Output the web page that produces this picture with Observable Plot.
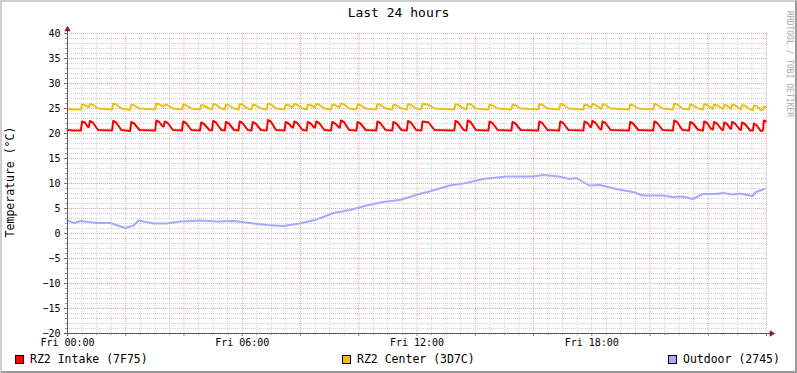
<!DOCTYPE html>
<html>
<head>
<meta charset="utf-8">
<script src="https://cdn.jsdelivr.net/npm/d3@7"></script>
<script src="https://cdn.jsdelivr.net/npm/@observablehq/plot@0.6"></script>
<style>
html, body { margin: 0; padding: 0; background: #fff; }
#wrap { position: relative; width: 797px; height: 373px; overflow: hidden; background: #fff;
        font-family: "DejaVu Sans Mono", monospace; color: #000; }
#wrap svg { position: absolute; left: 0; top: 0; }
#title { position: absolute; left: 0; top: 5px; width: 797px; text-align: center; font-size: 13px; line-height: 15px; }
#ylab { position: absolute; left: 10px; top: 182px; transform: translate(-50%, -50%) rotate(-90deg);
        font-size: 11.5px; white-space: nowrap; }
#wm { position: absolute; left: 789px; top: 64px; transform: translate(-50%, -50%) rotate(90deg);
      font-size: 8px; color: #a8a8a8; white-space: nowrap; }
.leg { position: absolute; top: 352px; font-size: 11.5px; line-height: 14px; white-space: nowrap; }
.leg .sw { position: absolute; left: 0; top: 3px; width: 7px; height: 7px; border: 1px solid #000; }
.leg .tx { position: absolute; left: 15px; top: 0; }
#border { position: absolute; left: 0; top: 0; width: 797px; height: 373px; box-sizing: border-box;
          border-top: 2px solid #cfcfcf; border-left: 2px solid #cfcfcf;
          border-right: 2px solid #9a9a9a; border-bottom: 2px solid #9a9a9a; pointer-events: none; }
</style>
</head>
<body>
<div id="wrap">
  <div id="title"></div>
  <div id="ylab"></div>
  <div id="wm"></div>
  <div id="border"></div>
</div>
<script>
// ---------- data ----------
const chartTitle = "Last 24 hours";
const yAxisTitle = "Temperature (°C)";
const watermark = "RRDTOOL / TOBI OETIKER";

const seriesNames = ["RZ2 Intake (7F75)", "RZ2 Center (3D7C)", "Outdoor (2745)"];
const seriesColors = ["#ff0000", "#eac11c", "#a8a8ff"];

const xTickHours = [0, 6, 12, 18];
const xTickLabels = ["Fri 00:00", "Fri 06:00", "Fri 12:00", "Fri 18:00"];
const yTickValues = [-20, -15, -10, -5, 0, 5, 10, 15, 20, 25, 30, 35, 40];

// hours since Fri 00:00 for the two indoor sensors (cooling cycles)
const cycleHours = [
  0, 0.2,
  0.46, 0.50, 0.60, 0.70,
  0.73, 0.77, 0.87, 1.05,
  1.53, 1.57, 1.67, 1.85,
  2.15, 2.19, 2.29, 2.47,
  3.01, 3.05, 3.15, 3.27,
  3.30, 3.34, 3.44, 3.62,
  3.93, 3.97, 4.07, 4.25,
  4.55, 4.59, 4.69, 4.87,
  4.96, 5.00, 5.10, 5.28,
  5.40, 5.44, 5.54, 5.72,
  5.87, 5.91, 6.01, 6.19,
  6.32, 6.36, 6.46, 6.64,
  6.84, 6.88, 6.98, 7.16,
  7.45, 7.49, 7.59, 7.72,
  7.75, 7.79, 7.89, 8.07,
  8.21, 8.25, 8.35, 8.47,
  8.50, 8.54, 8.64, 8.82,
  9.05, 9.09, 9.19, 9.32,
  9.35, 9.39, 9.49, 9.67,
  9.92, 9.96, 10.06, 10.24,
  10.60, 10.64, 10.74, 10.92,
  11.15, 11.19, 11.29, 11.47,
  11.65, 11.69, 11.79, 11.97,
  12.15, 12.19, 12.40, 12.60,
  13.28, 13.32, 13.42, 13.60,
  13.70, 13.74, 13.84, 14.02,
  14.45, 14.49, 14.59, 14.77,
  15.24, 15.28, 15.38, 15.56,
  16.16, 16.20, 16.30, 16.48,
  16.88, 16.92, 17.02, 17.20,
  17.71, 17.75, 17.85, 17.95,
  17.98, 18.02, 18.12, 18.28,
  18.33, 18.37, 18.47, 18.65,
  19.28, 19.32, 19.42, 19.60,
  20.11, 20.15, 20.25, 20.43,
  20.79, 20.83, 20.93, 21.11,
  21.34, 21.38, 21.48, 21.66,
  21.82, 21.86, 21.96, 22.10,
  22.16, 22.20, 22.30, 22.46,
  22.51, 22.55, 22.65, 22.75,
  22.78, 22.82, 22.92, 23.08,
  23.12, 23.16, 23.26, 23.44,
  23.53, 23.57, 23.67, 23.80,
  23.88, 23.91, 23.98
];

const intakeTemps = [
  20.7, 20.6,
  20.6, 22.4, 22.2, 21.3,
  21.3, 22.5, 22.2, 20.7,
  20.6, 22.5, 22.2, 20.7,
  20.5, 22.3, 22.0, 20.7,
  20.6, 22.6, 22.3, 21.4,
  21.4, 22.4, 22.1, 20.7,
  20.6, 22.4, 22.1, 20.7,
  20.6, 22.2, 21.9, 20.7,
  20.6, 22.5, 22.2, 20.7,
  20.6, 22.3, 22.0, 20.7,
  20.6, 22.4, 22.1, 20.7,
  20.6, 22.3, 22.0, 20.7,
  20.6, 22.7, 22.4, 20.7,
  20.6, 22.3, 22.0, 21.2,
  21.2, 22.4, 22.1, 20.7,
  20.6, 22.3, 22.0, 21.2,
  21.2, 22.4, 22.1, 20.7,
  20.6, 22.3, 22.0, 21.2,
  21.2, 22.6, 22.3, 20.7,
  20.6, 22.3, 22.0, 20.7,
  20.6, 22.4, 22.1, 20.7,
  20.6, 22.3, 22.0, 20.7,
  20.6, 22.5, 22.2, 20.7,
  20.6, 22.4, 22.2, 20.7,
  20.6, 22.5, 22.2, 20.7,
  20.6, 22.6, 22.3, 20.7,
  20.6, 22.4, 22.1, 20.7,
  20.6, 22.3, 22.0, 20.7,
  20.6, 22.4, 22.1, 20.7,
  20.6, 22.4, 22.1, 20.7,
  20.6, 22.4, 22.1, 21.3,
  21.3, 22.5, 22.2, 20.9,
  20.8, 22.4, 22.1, 20.7,
  20.6, 22.3, 22.0, 20.7,
  20.6, 22.4, 22.1, 20.7,
  20.6, 22.6, 22.3, 20.7,
  20.6, 22.3, 22.0, 20.7,
  20.6, 22.4, 22.1, 20.9,
  20.8, 22.3, 22.0, 20.8,
  20.7, 22.2, 21.9, 21.0,
  20.9, 22.3, 22.0, 20.8,
  20.7, 22.2, 21.9, 20.6,
  20.6, 22.0, 21.6, 20.5,
  20.6, 22.6, 22.4
];

const centerTemps = [
  24.9, 24.8,
  24.8, 25.8, 25.7, 25.3,
  25.3, 25.9, 25.75, 25.0,
  24.8, 26.0, 25.85, 25.0,
  24.7, 25.8, 25.65, 25.0,
  24.8, 26.0, 25.85, 25.4,
  25.4, 25.8, 25.65, 25.0,
  24.8, 25.8, 25.65, 25.0,
  24.8, 25.7, 25.55, 25.0,
  24.8, 25.9, 25.75, 25.0,
  24.8, 25.8, 25.65, 25.0,
  24.8, 25.9, 25.75, 25.0,
  24.8, 25.8, 25.65, 25.0,
  24.8, 26.0, 25.85, 25.0,
  24.8, 25.8, 25.65, 25.3,
  25.3, 25.9, 25.75, 25.0,
  24.8, 25.8, 25.65, 25.3,
  25.3, 25.9, 25.75, 25.0,
  24.8, 25.8, 25.65, 25.3,
  25.3, 26.0, 25.85, 25.0,
  24.8, 25.8, 25.65, 25.0,
  24.8, 25.9, 25.75, 25.0,
  24.8, 25.8, 25.65, 25.0,
  24.8, 25.9, 25.75, 25.0,
  24.8, 25.9, 25.75, 25.0,
  24.8, 25.9, 25.75, 25.0,
  24.8, 26.0, 25.85, 25.0,
  24.8, 25.8, 25.65, 25.0,
  24.8, 25.8, 25.65, 25.0,
  24.8, 25.9, 25.75, 25.0,
  24.8, 25.9, 25.75, 25.0,
  24.8, 25.8, 25.65, 25.3,
  25.3, 25.9, 25.75, 25.1,
  24.9, 25.9, 25.75, 25.0,
  24.8, 25.8, 25.65, 25.0,
  24.8, 25.9, 25.75, 25.0,
  24.8, 26.0, 25.85, 25.0,
  24.8, 25.8, 25.65, 25.0,
  24.8, 25.9, 25.75, 25.1,
  24.9, 25.8, 25.65, 25.1,
  24.9, 25.7, 25.55, 25.1,
  24.9, 25.8, 25.65, 25.0,
  24.8, 25.7, 25.55, 24.8,
  24.7, 25.6, 25.45, 24.7,
  24.7, 25.4, 25.3
];

const outdoorHours = [0, 0.23, 0.45, 1.01, 1.47, 1.98, 2.27, 2.44, 2.95, 3.41, 3.87, 4.55, 5.13, 5.70,
  6.27, 6.84, 7.41, 7.98, 8.55, 9.13, 9.70, 10.27, 10.84, 11.41, 12.09, 12.55, 13.12, 13.70, 14.27,
  15.07, 15.98, 16.33, 16.89, 17.24, 17.47, 17.92, 18.27, 18.84, 19.41, 19.75, 20.44, 20.78, 21.12,
  21.47, 21.81, 22.27, 22.50, 22.84, 23.07, 23.52, 23.64, 23.92];
const outdoorTemps = [2.6, 2.1, 2.5, 2.1, 2.1, 1.1, 1.6, 2.6, 2.0, 2.0, 2.4, 2.6, 2.4, 2.5,
  2.1, 1.7, 1.5, 2.0, 2.8, 4.1, 4.7, 5.6, 6.3, 6.7, 7.9, 8.6, 9.6, 10.1, 10.9,
  11.4, 11.4, 11.7, 11.4, 10.9, 11.1, 9.6, 9.7, 8.9, 8.3, 7.6, 7.6, 7.3, 7.4,
  6.9, 7.9, 7.9, 8.1, 7.8, 8.0, 7.5, 8.3, 8.9];

// ---------- build tables ----------
function table(hours, temps) {
  const n = Math.min(hours.length, temps.length);
  return d3.range(n).map(i => ({h: hours[i], t: temps[i]}));
}
const intake = table(cycleHours, intakeTemps);
const center = table(cycleHours, centerTemps);
const outdoor = table(outdoorHours, outdoorTemps);

const yMinor = d3.range(-20, 41, 1).filter(v => v % 5 !== 0);
const yMajor = yTickValues;
const xMinor = d3.range(0, 24.01, 0.5).filter(v => v % 2 !== 0);
const xMajor = d3.range(0, 24.01, 2);

const minorColor = "#d2d2d2";
const majorColor = "#eaa8a8";
const axisColor = "#5a5a5a";
const arrowColor = "#8a1c1c";

const chart = Plot.plot({
  width: 797,
  height: 373,
  marginLeft: 67,
  marginRight: 31,
  marginTop: 33,
  marginBottom: 40,
  style: {fontFamily: "DejaVu Sans Mono", fontSize: "10px", background: "transparent", color: "#000", overflow: "visible"},
  x: {domain: [0, 24]},
  y: {domain: [-20, 40]},
  marks: [
    Plot.ruleY(yMinor, {stroke: minorColor, strokeDasharray: "1,1"}),
    Plot.ruleX(xMinor, {stroke: minorColor, strokeDasharray: "1,1"}),
    Plot.ruleY(yMajor, {stroke: majorColor, strokeDasharray: "1,1"}),
    Plot.ruleX(xMajor, {stroke: majorColor, strokeDasharray: "1,1"}),
    Plot.axisY(yMinor, {tickSize: 2, tickFormat: () => "", stroke: "#999", label: null}),
    Plot.axisY(yMajor, {tickSize: 3, tickPadding: 4, stroke: "#b55", label: null, fontSize: 10}),
    Plot.axisX(xMinor, {tickSize: 2, tickFormat: () => "", stroke: "#999", label: null}),
    Plot.axisX(xMajor, {tickSize: 3, tickFormat: () => "", stroke: "#d66", label: null}),
    Plot.axisX(xTickHours, {tickSize: 0, tickPadding: 5,
      tickFormat: d => xTickLabels[xTickHours.indexOf(d)], label: null, fontSize: 10}),
    Plot.line(intake, {x: "h", y: "t", stroke: seriesColors[0], strokeWidth: 2}),
    Plot.line(center, {x: "h", y: "t", stroke: seriesColors[1], strokeWidth: 2}),
    Plot.line(outdoor, {x: "h", y: "t", stroke: seriesColors[2], strokeWidth: 2}),
    Plot.ruleY([-20], {stroke: axisColor, insetLeft: -3, insetRight: -6}),
    Plot.ruleX([0], {stroke: axisColor, insetTop: -6, insetBottom: -3}),
    Plot.dot([0], {x: 0, y: 40, symbol: "triangle2", r: 3, fill: arrowColor, stroke: null, dy: -4}),
    Plot.dot([0], {x: 24, y: -20, symbol: "triangle2", r: 3, fill: arrowColor, stroke: null, rotate: 90, dx: 5})
  ]
});

const wrap = document.getElementById("wrap");
wrap.insertBefore(chart, wrap.firstChild);
document.getElementById("title").textContent = chartTitle;
document.getElementById("ylab").textContent = yAxisTitle;
document.getElementById("wm").textContent = watermark;

const legendLeft = [15, 342, 668];
seriesNames.forEach((name, i) => {
  const d = document.createElement("div");
  d.className = "leg";
  d.style.left = legendLeft[i] + "px";
  const sw = document.createElement("span");
  sw.className = "sw";
  sw.style.background = seriesColors[i];
  const tx = document.createElement("span");
  tx.className = "tx";
  tx.textContent = name;
  d.appendChild(sw);
  d.appendChild(tx);
  wrap.insertBefore(d, document.getElementById("border"));
});
</script>
</body>
</html>
